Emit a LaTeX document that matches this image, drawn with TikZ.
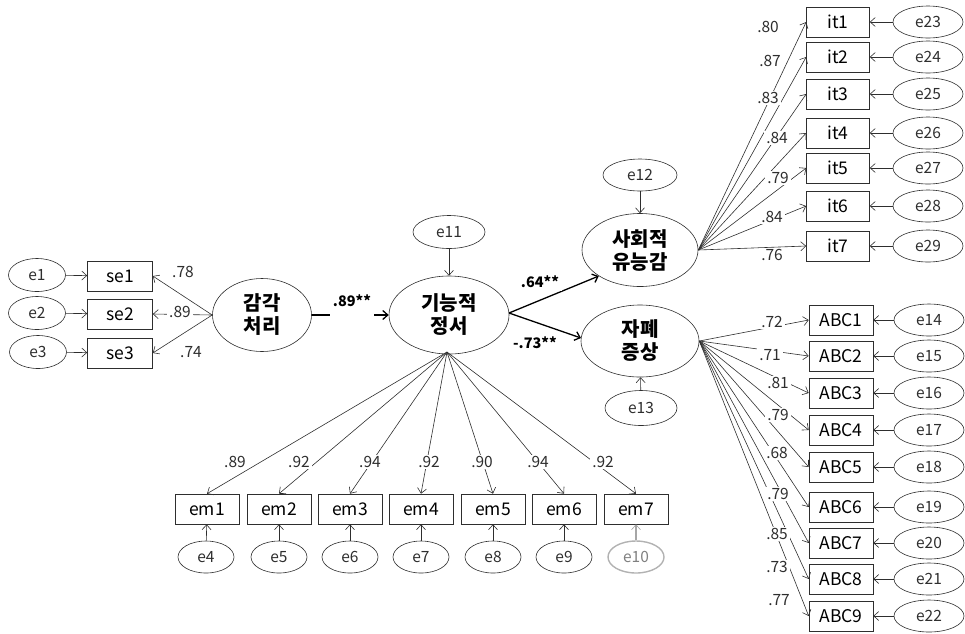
\documentclass[tikz,border=0pt]{standalone}
\usepackage{fontspec}
\setmainfont{Noto Sans CJK KR}
\usetikzlibrary{shapes.geometric,arrows.meta}
\definecolor{ln}{HTML}{2E2E2E}
\begin{document}
\begin{tikzpicture}[x=1pt,y=-1pt,
  err/.style={ellipse,draw=ln,line width=0.6pt,inner sep=0pt,minimum width=72pt,minimum height=33pt,font=\fontsize{15.5}{17}\selectfont,text=ln},
  obs/.style={rectangle,draw=ln,line width=0.6pt,inner sep=0pt,minimum width=64pt,minimum height=30pt,font=\fontsize{17.5}{19}\selectfont},
  lat/.style={ellipse,draw=ln,line width=0.6pt,inner sep=0pt,minimum width=118pt,minimum height=73pt,align=center,font=\fontsize{20}{23}\selectfont\bfseries},
  pth/.style={draw=ln,line width=0.6pt,-{Straight Barb[length=5pt,width=9pt,line width=0.6pt]}},
  bpth/.style={draw=black,line width=1.3pt,-{Straight Barb[length=5pt,width=9pt,line width=1.3pt]}},
  coef/.style={inner xsep=2pt,inner ysep=1pt,fill=white,font=\fontsize{15.5}{17}\selectfont,text=ln},
  bcoef/.style={inner sep=3pt,fill=white,font=\fontsize{14.5}{16}\selectfont\bfseries},
]
\useasboundingbox (0,0) rectangle (965,633);

% left block
\node[err,minimum width=57pt] (e1) at (37,275) {e1};
\node[err,minimum width=57pt] (e2) at (37,313) {e2};
\node[err,minimum width=57pt] (e3) at (38,352) {e3};
\node[obs,minimum width=65pt] (se1) at (120,276) {se1};
\node[obs,minimum width=65pt] (se2) at (120,314) {se2};
\node[obs,minimum width=65pt] (se3) at (120,353) {se3};
\node[lat,minimum width=99pt] (A) at (262,315) {감각\\처리};
\foreach \i in {1,2,3} \draw[pth] (e\i) -- (se\i);
\foreach \i in {1,2,3} \draw[pth] (A.west) -- (se\i.east);
\node[coef] (l1) at (183,272) {.78};
\node[coef] (l2) at (180,312) {.89};
\node[coef] (l3) at (191,352) {.74};

% center
\node[err] (e11) at (449,232) {e11};
\node[lat,minimum width=120pt,minimum height=78pt] (F) at (449,315) {기능적\\정서};
\draw[pth] (e11) -- (F);
\draw[bpth] (A.east) -- (F.west);
\node[bcoef,anchor=base,text depth=10pt] (lAF) at (352,306) {.89**};

\node[err,minimum width=74pt,minimum height=32pt] (e12) at (640,175) {e12};
\node[lat,minimum width=116pt] (S) at (640,250) {사회적\\유능감};
\node[lat,minimum width=118pt,minimum height=72pt] (D) at (640,341) {자폐\\증상};
\node[err,minimum height=35pt] (e13) at (641,408) {e13};
\draw[pth] (e12) -- (S);
\draw[pth] (e13) -- (D);
\coordinate (Fe) at (509,313);
\draw[bpth] (Fe) -- (S.south west);
\draw[bpth] (Fe) -- (581,338);
\node[bcoef] (lFS) at (540,282) {.64**};
\node[bcoef] (lFD) at (535,343) {-.73**};

% bottom
\coordinate (Fs) at (447,352);
\foreach \n/\x in {1/207,2/279,3/350,4/421,5/493,6/564,7/636}{
  \node[obs] (em\n) at (\x,509) {em\n};
  \draw[pth] (Fs) -- (em\n.north);
}
\foreach \n/\c/\lx in {1/.89/235,2/.92/299,3/.94/370,4/.92/429,5/.90/482,6/.94/538,7/.92/603}{
  \node[coef] (lem\n) at (\lx,462) {\c};
}
\foreach \n/\x in {4/206,5/279,6/350,7/421,8/493,9/564}{
  \pgfmathtruncatemacro{\m}{\n-3}
  \node[err,minimum width=56pt,minimum height=32pt] (e\n) at (\x,557) {e\n};
  \draw[pth] (e\n) -- (em\m);
}
\node[err,minimum width=56pt,minimum height=32pt,draw=gray!60,line width=1.4pt,text=gray] (e10) at (636,557) {e10};
\draw[pth,draw=gray!70,line width=1.2pt] (e10) -- (em7);

% it block
\foreach \n/\y/\e in {1/22/23,2/57/24,3/94/25,4/133/26,5/168/27,6/206/28,7/246/29}{
  \node[obs,minimum width=63pt] (it\n) at (838,\y) {it\n};
  \node[err,minimum width=70pt,minimum height=32pt] (e\e) at (928,\y) {e\e};
  \draw[pth] (e\e) -- (it\n);
  \draw[pth] (S.east) -- (it\n.west);
}
\foreach \n/\c/\lx/\ly in {1/.80/768/27,2/.87/770/61,3/.83/768/98,4/.84/777/138,5/.79/778/178,6/.84/772/217,7/.76/772/255}{
  \node[coef] (lit\n) at (\lx,\ly) {\c};
}

% ABC block
\foreach \n/\y/\e in {1/320/14,2/356/15,3/393/16,4/430/17,5/467/18,6/507/19,7/543/20,8/579/21,9/616/22}{
  \node[obs] (ABC\n) at (841,\y) {ABC\n};
  \node[err,minimum width=70pt,minimum height=32pt] (e\e) at (929,\y) {e\e};
  \draw[pth] (e\e) -- (ABC\n);
  \draw[pth] (D.east) -- (ABC\n.west);
}
\foreach \n/\c/\lx/\ly in {1/.72/772/322,2/.71/770/355,3/.81/778/383,4/.79/778/415,5/.68/777/453,6/.79/778/494,7/.85/777/534,8/.73/777/567,9/.77/779/600}{
  \node[coef] (lABC\n) at (\lx,\ly) {\c};
}
\end{tikzpicture}
\end{document}
